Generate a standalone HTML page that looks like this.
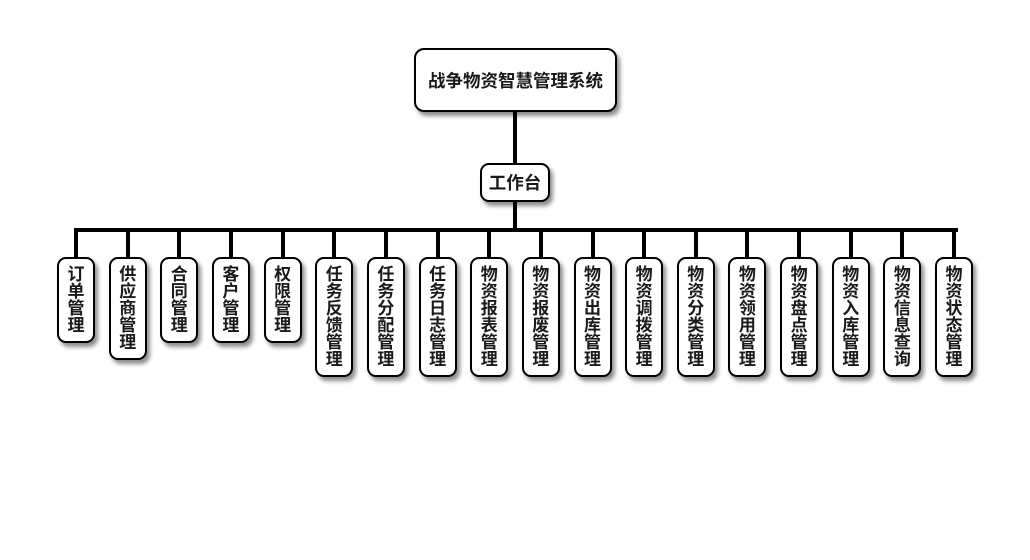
<!DOCTYPE html>
<html>
<head>
<meta charset="utf-8">
<style>
  html, body { margin:0; padding:0; background:#fff; }
  body { width:1030px; height:560px; position:relative; overflow:hidden;
         font-family:"Liberation Sans","Noto Sans CJK SC",sans-serif; font-weight:bold; color:#1a1a1a; }
  .box { position:absolute; box-sizing:border-box; border:2px solid #000; background:#fff;
         box-shadow:3px 4px 4px rgba(0,0,0,0.45); display:flex; align-items:center; justify-content:center; }
  .line { position:absolute; background:#000; }
  .v { width:17px; word-break:break-all; line-height:17px; font-size:17px; text-align:center; }
</style>
</head>
<body>
<div class="line" style="left:513px;top:110px;width:4px;height:55px;"></div>
<div class="line" style="left:513px;top:200px;width:4px;height:30px;"></div>
<div class="line" style="left:74px;top:228px;width:884px;height:4px;"></div>

<div class="box" style="left:414px;top:48px;width:203px;height:64px;border-radius:10px;font-size:17.5px;">战争物资智慧管理系统</div>
<div class="box" style="left:480px;top:163px;width:70px;height:39px;border-radius:9px;font-size:17.5px;">工作台</div>

<div id="kids"></div>
<script>
var names=["订单管理","供应商管理","合同管理","客户管理","权限管理","任务反馈管理","任务分配管理","任务日志管理","物资报表管理","物资报废管理","物资出库管理","物资调拨管理","物资分类管理","物资领用管理","物资盘点管理","物资入库管理","物资信息查询","物资状态管理"];
var h="";
for(var i=0;i<names.length;i++){
  var c=76+i*51.65;
  var n=names[i].length;
  var ht=17*n+18;
  h+='<div class="line" style="left:'+(c-2).toFixed(1)+'px;top:230px;width:4px;height:29px;"></div>';
  h+='<div class="box" style="left:'+(c-19).toFixed(1)+'px;top:257px;width:38px;height:'+ht+'px;border-radius:9px;"><div class="v">'+names[i]+'</div></div>';
}
document.getElementById("kids").innerHTML=h;
</script>
</body>
</html>
